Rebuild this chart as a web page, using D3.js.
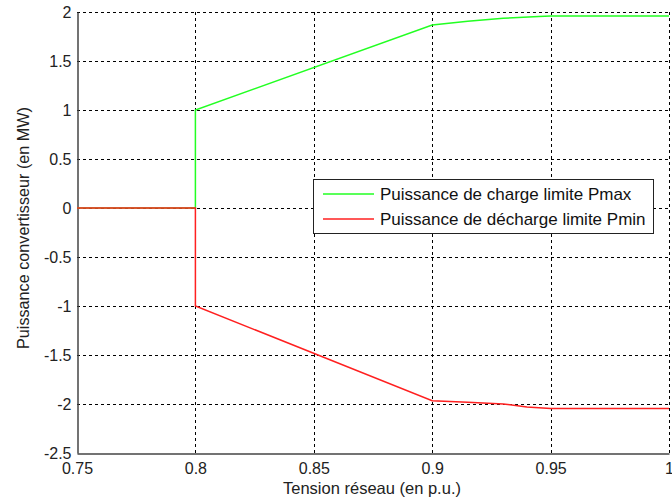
<!DOCTYPE html>
<html><head><meta charset="utf-8">
<script src="https://cdn.jsdelivr.net/npm/d3@7"></script>
<style>body{margin:0;background:#fff;}svg{display:block;font-family:"Liberation Sans",Arial,sans-serif;}</style>
</head><body><svg id="c" width="672" height="502"></svg>
<script>
const xTicks = [0.75, 0.8, 0.85, 0.9, 0.95, 1];
const xTickLabels = ["0.75", "0.8", "0.85", "0.9", "0.95", "1"];
const yTicks = [-2.5, -2, -1.5, -1, -0.5, 0, 0.5, 1, 1.5, 2];
const yTickLabels = ["-2.5", "-2", "-1.5", "-1", "-0.5", "0", "0.5", "1", "1.5", "2"];
const pmaxX = [0.75, 0.8, 0.8, 0.9, 0.915, 0.93, 0.945, 0.95, 1.0];
const pmaxY = [0, 0, 1, 1.867, 1.905, 1.935, 1.955, 1.96, 1.96];
const pminX = [0.75, 0.8, 0.8, 0.9, 0.915, 0.93, 0.94, 0.95, 1.0];
const pminY = [0, 0, -1, -1.966, -1.983, -2.0, -2.03, -2.045, -2.045];
const seriesNames = ["Puissance de charge limite Pmax", "Puissance de décharge limite Pmin"];
const seriesColors = ["#22ff22", "#ff2020"];

const svg = d3.select("#c");
const L = 77, R = 669, T = 12, B = 453;
const x = d3.scaleLinear().domain([0.75, 1]).range([L, R]);
const y = d3.scaleLinear().domain([-2.5, 2]).range([B, T]);

// grid
const g = svg.append("g");
g.selectAll(".gx").data(xTicks.slice(1)).enter().append("line")
  .attr("x1", d => Math.round(x(d)) + 0.5).attr("x2", d => Math.round(x(d)) + 0.5)
  .attr("y1", T).attr("y2", B)
  .attr("stroke", "#000").attr("stroke-dasharray", "3,3").attr("stroke-width", 1);
g.selectAll(".gy").data(yTicks.slice(1)).enter().append("line")
  .attr("y1", d => Math.round(y(d)) + 0.5).attr("y2", d => Math.round(y(d)) + 0.5)
  .attr("x1", L).attr("x2", R)
  .attr("stroke", "#000").attr("stroke-dasharray", "3,3").attr("stroke-width", 1);

// axes
const xAxis = d3.axisBottom(x).tickValues(xTicks).tickFormat((d, i) => xTickLabels[i]).tickSize(0).tickPadding(0);
const yAxis = d3.axisLeft(y).tickValues(yTicks).tickFormat((d, i) => yTickLabels[i]).tickSize(0).tickPadding(6);
const gx = svg.append("g").attr("transform", `translate(0,${B + 0.5})`).call(xAxis);
const gy = svg.append("g").attr("transform", `translate(${L + 0.5},0)`).call(yAxis);
[gx, gy].forEach(a => {
  a.select(".domain").attr("stroke", "#444").attr("stroke-width", 1.5);
  a.selectAll("text").attr("font-size", 16).attr("fill", "#222").attr("font-family", "Liberation Sans, Arial, sans-serif");
});
gx.selectAll("text").attr("y", 20).attr("dy", 0);
gy.selectAll("text").attr("dy", "0.35em");

// lines
const line = d3.line().x(d => x(d[0])).y(d => y(d[1]));
const series = [
  pmaxX.map((v, i) => [v, pmaxY[i]]),
  pminX.map((v, i) => [v, pminY[i]])
];
series.forEach((s, i) => {
  svg.append("path").datum(s).attr("d", line).attr("fill", "none")
    .attr("stroke", seriesColors[i]).attr("stroke-width", 1.5);
});

// labels
svg.append("text").attr("x", 372).attr("y", 494).attr("text-anchor", "middle")
  .attr("font-size", 16.5).attr("fill", "#222").text("Tension réseau (en p.u.)");
svg.append("text").attr("transform", `translate(29,228) rotate(-90)`).attr("text-anchor", "middle")
  .attr("font-size", 16.2).attr("fill", "#222").text("Puissance convertisseur (en MW)");

// legend
const lg = svg.append("g");
lg.append("rect").attr("x", 313.5).attr("y", 179.5).attr("width", 340).attr("height", 54)
  .attr("fill", "#fff").attr("stroke", "#222").attr("stroke-width", 1);
seriesNames.forEach((n, i) => {
  const yy = 194 + i * 25;
  lg.append("line").attr("x1", 323).attr("x2", 374).attr("y1", yy).attr("y2", yy)
    .attr("stroke", seriesColors[i]).attr("stroke-width", 1.5);
  lg.append("text").attr("x", 380).attr("y", yy).attr("dy", "0.35em").attr("font-size", 17)
    .attr("fill", "#111").text(n);
});
</script></body></html>
